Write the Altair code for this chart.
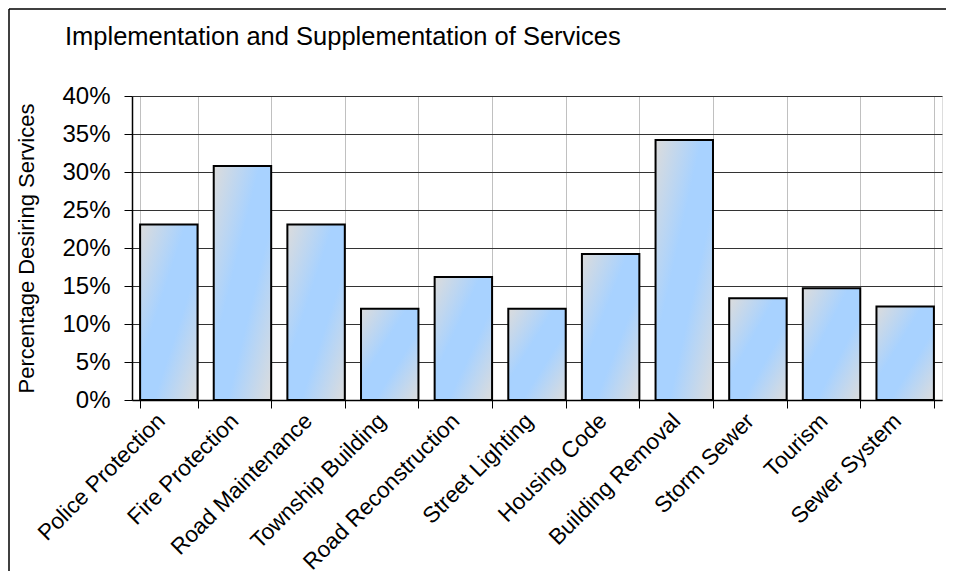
import altair as alt
import pandas as pd

categories = ["Police Protection", "Fire Protection", "Road Maintenance", "Township Building",
              "Road Reconstruction", "Street Lighting", "Housing Code", "Building Removal",
              "Storm Sewer", "Tourism", "Sewer System"]
values = [23.1, 30.8, 23.1, 12.0, 16.2, 12.0, 19.2, 34.2, 13.4, 14.7, 12.3]
y_ticks = [0, 0.05, 0.10, 0.15, 0.20, 0.25, 0.30, 0.35, 0.40]
title_text = "Implementation and Supplementation of Services"

df = pd.DataFrame({"Service": categories, "Pct": [v / 100 for v in values]})

FONT = "Liberation Sans"
W, H = 810, 304
PAD = {"left": 124, "top": 88, "right": 4, "bottom": 171}

grad = {
    "gradient": "linear", "x1": 0, "y1": 0, "x2": 1, "y2": 1,
    "stops": [
        {"offset": 0, "color": "#dcdcdc"},
        {"offset": 0.4, "color": "#a8d2ff"},
        {"offset": 0.62, "color": "#a8d2ff"},
        {"offset": 1, "color": "#dcdcdc"},
    ],
}

bars = alt.Chart(df).mark_bar(fill=grad, stroke="black", strokeWidth=2).encode(
    x=alt.X("Service:N", sort=categories,
            scale=alt.Scale(paddingInner=0.22, paddingOuter=0.11),
            axis=alt.Axis(title=None, labelAngle=-45, labelFontSize=22.5, labelFont=FONT,
                          labelColor="black", labelPadding=9, labelBaseline="middle",
                          labelAlign="right", labelOffset=-8, labelLimit=400,
                          tickSize=8, tickBand="extent",
                          tickColor="black", domainColor="black", domainWidth=1.5,
                          grid=True, gridColor="#c0c0c0", gridWidth=1)),
    y=alt.Y("Pct:Q", scale=alt.Scale(domain=[0, 0.4], nice=False),
            axis=alt.Axis(title="Percentage Desiring Services", values=y_ticks, format=".0%",
                          labelFontSize=24, labelFont=FONT, labelColor="black",
                          labelPadding=14, tickSize=8, tickColor="black",
                          domainColor="black", domainWidth=1.5,
                          grid=True, gridColor="#333333", gridWidth=1.2,
                          titleFontSize=22, titleFont=FONT, titleFontWeight="normal",
                          titleColor="black", titlePadding=23)),
)

one = pd.DataFrame({"t": [title_text]})

title = alt.Chart(one).mark_text(
    align="left", baseline="alphabetic", fontSize=25.5, font=FONT, color="black"
).encode(x=alt.value(-67), y=alt.value(-51), text="t:N")

top_border = alt.Chart(one).mark_rule(stroke="black", strokeWidth=1.5).encode(
    x=alt.value(-PAD["left"] + 1), x2=alt.value(W + PAD["right"]),
    y=alt.value(-PAD["top"] + 1),
)
left_border = alt.Chart(one).mark_rule(stroke="black", strokeWidth=1.5).encode(
    x=alt.value(-PAD["left"] + 1),
    y=alt.value(-PAD["top"] + 1), y2=alt.value(H + PAD["bottom"]),
)

chart = alt.layer(top_border, left_border, title, bars).properties(
    width=W, height=H,
    padding=PAD,
    autosize=alt.AutoSizeParams(type="none"),
).configure_view(stroke="#808080", strokeWidth=2).configure(background="white")

chart.save("out.html", embed_options={"renderer": "svg", "actions": False})
